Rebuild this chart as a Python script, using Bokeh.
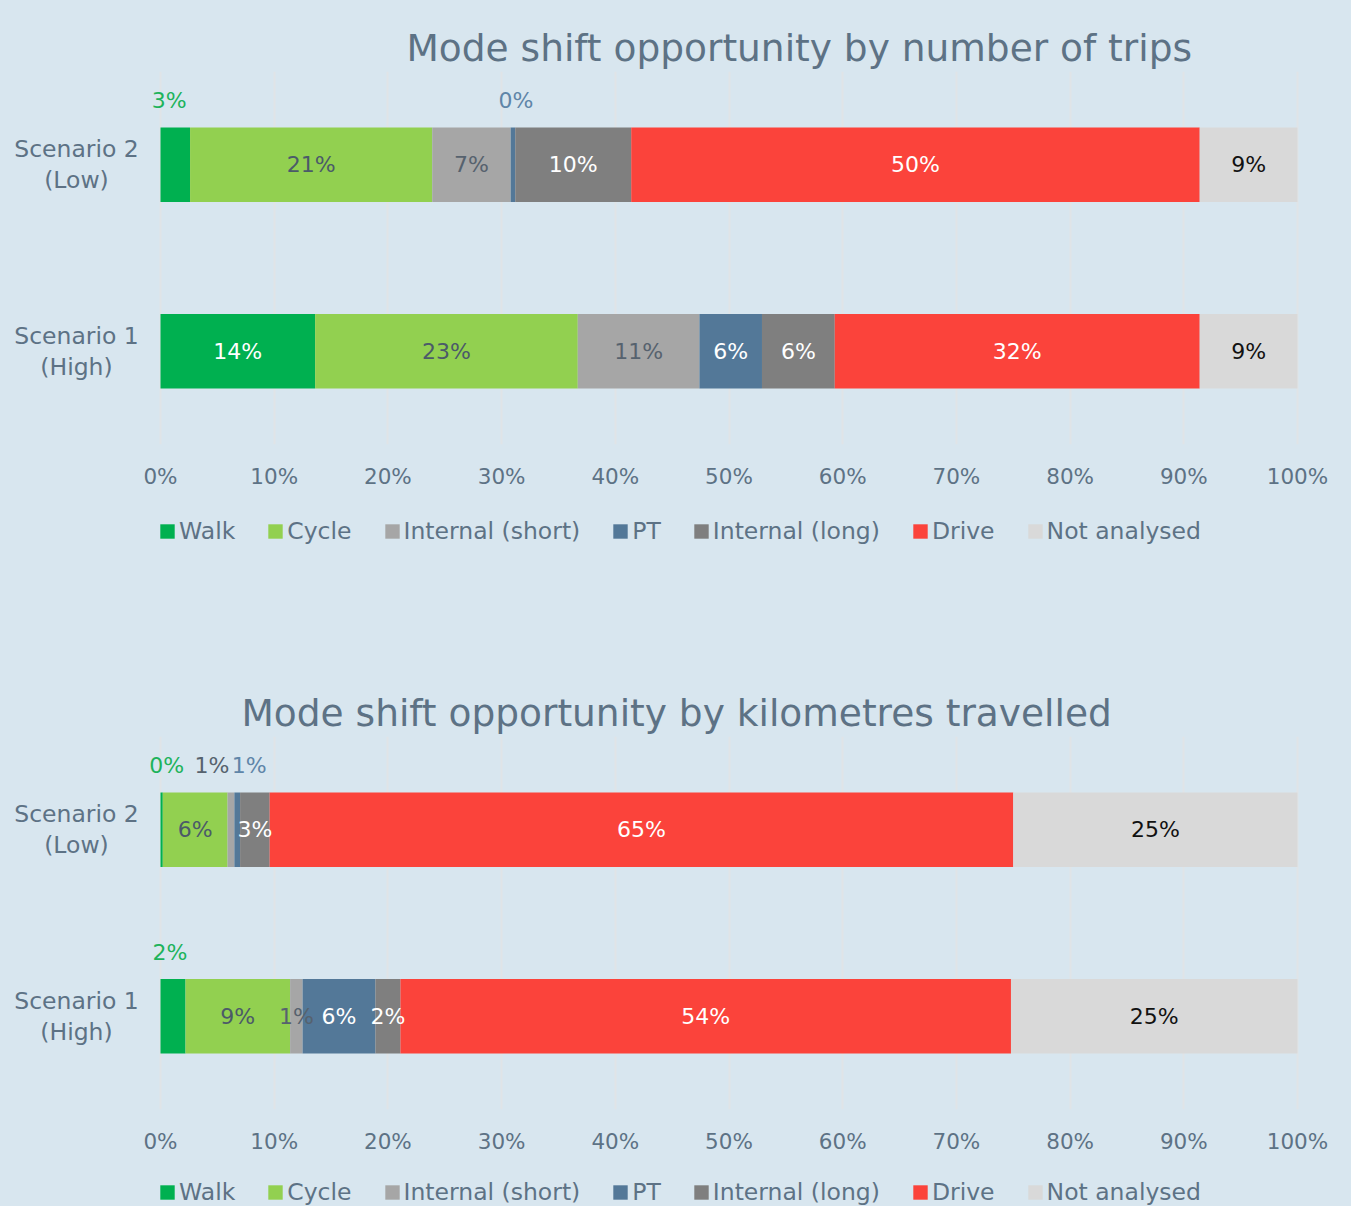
from bokeh.plotting import figure
from bokeh.models import (ColumnDataSource, Legend, LegendItem, FixedTicker,
                          PrintfTickFormatter, FactorRange, Range1d)
from bokeh.layouts import column
from bokeh.embed import file_html
from bokeh.resources import INLINE
from bokeh.core.properties import value

# ---------------- data ----------------
categories = ["Scenario 1\n(High)", "Scenario 2\n(Low)"]
modes = ["Walk", "Cycle", "Internal (short)", "PT", "Internal (long)", "Drive", "Not analysed"]
mode_colors = ["#00b050", "#92d050", "#a6a6a6", "#537898", "#7f7f7f", "#fb433b", "#d9d9d9"]

trips_high = [13.6, 23.1, 10.7, 5.5, 6.4, 32.1, 8.6]
trips_low = [2.6, 21.3, 6.9, 0.4, 10.2, 50.0, 8.6]
km_high = [2.2, 9.2, 1.1, 6.4, 2.2, 53.7, 25.2]
km_low = [0.2, 5.7, 0.6, 0.5, 2.6, 65.4, 25.0]

x_ticks = [0, 10, 20, 30, 40, 50, 60, 70, 80, 90, 100]

# ---------------- style ----------------
BG = "#d8e6ef"
TXT = "#5d7285"
FONT = "DejaVu Sans"
inside_colors = ["#ffffff", "#4b5a69", "#56626e", "#ffffff", "#ffffff", "#ffffff", "#111111"]
above_colors = ["#1db35c", "#4b5a69", "#56626e", "#5f85a8", "#ffffff", "#ffffff", "#111111"]

# (category index, mode index) -> horizontal pixel nudge for labels drawn above bar
trips_above = {(1, 0): -6, (1, 3): 3}
km_above = {(1, 0): 5, (1, 2): -19, (1, 3): 12, (0, 0): -3}

PX = 11.37    # pixels per percentage point
EXT = 160     # frame pixels left of 0 % (room for the category labels)
CAT_X = 84    # category label centre, pixels left of 0 %
W = 1351


def make_chart(title_text, high, low, above, top, bottom, title_offset):
    data = {"scenario": categories}
    for m, hv, lv in zip(modes, high, low):
        data[m] = [hv, lv]
    src = ColumnDataSource(data)

    p = figure(frame_width=1137 + EXT + 2, frame_height=373,
               y_range=FactorRange(*categories),
               x_range=Range1d(-EXT / PX, 100 + 2 / PX), y_axis_location=None,
               output_backend="svg", toolbar_location=None,
               min_border_left=0, min_border_right=W - EXT - 1137 - 2,
               min_border_top=top, min_border_bottom=bottom,
               background_fill_color=None, border_fill_color=BG, outline_line_color=None)

    p.hbar_stack(modes, y="scenario", height=0.4, color=mode_colors,
                 line_color=None, source=src)

    # category labels (centre-justified, two lines)
    csrc = ColumnDataSource(dict(x=[-CAT_X / PX] * len(categories), y=categories,
                                 text=categories))
    p.text(x="x", y="y", text="text", source=csrc, text_align="center",
           text_baseline="middle", text_color=TXT, text_font=value(FONT),
           text_font_size="23.5px", text_line_height=1.1)

    lx, ly, lt, lc, lxo, lyo = [], [], [], [], [], []
    for ci, vals in enumerate([high, low]):
        left = 0.0
        for mi, v in enumerate(vals):
            lx.append(left + v / 2.0)
            ly.append(categories[ci])
            lt.append("%d%%" % int(v + 0.5))
            if (ci, mi) in above:
                lc.append(above_colors[mi])
                lxo.append(above[(ci, mi)])
                lyo.append(-64)
            else:
                lc.append(inside_colors[mi])
                lxo.append(0)
                lyo.append(0)
            left += v
    lsrc = ColumnDataSource(dict(x=lx, y=ly, text=lt, color=lc, xo=lxo, yo=lyo))
    p.text(x="x", y="y", text="text", text_color="color", x_offset="xo", y_offset="yo",
           source=lsrc, text_align="center", text_baseline="middle",
           text_font=value(FONT), text_font_size="22px")

    p.title.text = title_text
    p.title.align = "left"
    p.title.vertical_align = "top"
    p.title.offset = title_offset
    p.title.standoff = 0
    p.title.text_font = FONT
    p.title.text_font_size = "37.5px"
    p.title.text_font_style = "normal"
    p.title.text_color = TXT

    p.xaxis.ticker = FixedTicker(ticks=x_ticks)
    p.xaxis.formatter = PrintfTickFormatter(format="%d%%")
    p.xaxis.axis_line_color = None
    p.xaxis.major_tick_line_color = None
    p.xaxis.major_tick_out = 0
    p.xaxis.minor_tick_line_color = None
    p.xaxis.minor_tick_out = 0
    p.xaxis.major_label_standoff = 19
    p.xaxis.major_label_text_font = FONT
    p.xaxis.major_label_text_font_size = "21.5px"
    p.xaxis.major_label_text_color = TXT

    p.xgrid.grid_line_color = "#e0e4e7"
    p.xgrid.grid_line_width = 2
    p.ygrid.grid_line_color = None
    return p


def make_legend(height, legend_y):
    lp = figure(width=W, height=height, x_range=Range1d(0, 1), y_range=Range1d(0, 1),
                x_axis_type=None, y_axis_type=None, output_backend="svg",
                toolbar_location=None, min_border=0, background_fill_color=None,
                border_fill_color=BG, outline_line_color=None)
    lp.grid.visible = False
    items = []
    for m, c in zip(modes, mode_colors):
        # zero-size proxy glyph that only supplies the legend swatch colour
        r = lp.hbar(y=[0], left=[0], right=[0], height=0, fill_color=c, line_color=None)
        items.append(LegendItem(label=m, renderers=[r]))
    legend = Legend(items=items, orientation="horizontal", location=(158, legend_y),
                    margin=0, padding=0, spacing=31, label_standoff=3,
                    glyph_width=18, glyph_height=18,
                    label_text_font=FONT, label_text_font_size="23.5px",
                    label_text_color=TXT, label_text_baseline="middle",
                    border_line_color=None, background_fill_alpha=0)
    lp.add_layout(legend, "center")
    return lp


p1 = make_chart("Mode shift opportunity by number of trips", trips_high, trips_low,
                trips_above, 71, 55, 406)
l1 = make_legend(155, 109)
p2 = make_chart("Mode shift opportunity by kilometres travelled", km_high, km_low,
                km_above, 82, 55, 241)
l2 = make_legend(42, 0)

layout = column(p1, l1, p2, l2, spacing=0, styles={"background-color": BG})
open("out.html", "w").write(file_html(layout, INLINE))
